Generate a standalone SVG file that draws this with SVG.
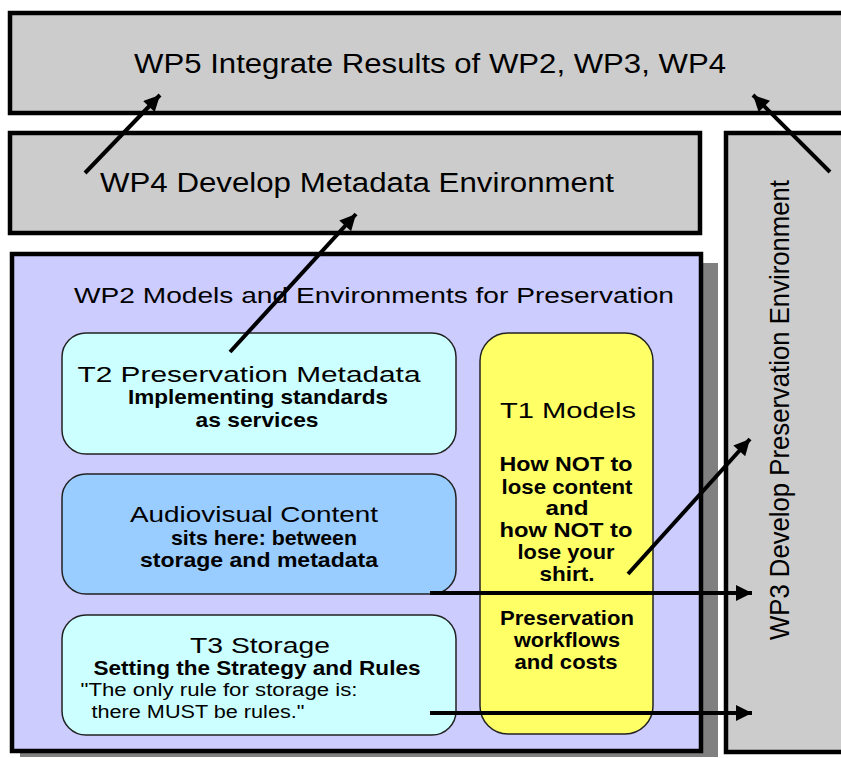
<svg xmlns="http://www.w3.org/2000/svg" width="841" height="758" viewBox="0 0 841 758">
<defs>
<style>
.wp{fill:#cccccc;stroke:#000;stroke-width:4.5}
.t{font-family:"Liberation Sans",Arial,sans-serif;fill:#000;text-anchor:middle}
.big{font-size:27px}
.h{font-size:22px}
.b{font-size:21px;font-weight:bold}
.q{font-size:18px}
.inner{stroke:#222;stroke-width:1.5}
.conn{stroke:#000;stroke-width:4;fill:none}
</style>
<marker id="ah" viewBox="0 0 10 10" refX="10" refY="5" markerWidth="8.5" markerHeight="4" markerUnits="strokeWidth" orient="auto">
<path d="M0,0 L10,5 L0,10 z" fill="#000"/>
</marker>
</defs>
<rect x="0" y="0" width="841" height="758" fill="#fff"/>
<g id="wp5">
<rect class="wp" x="10" y="13" width="840" height="100"/>
<text class="t big" x="430" y="73" textLength="592" lengthAdjust="spacingAndGlyphs">WP5 Integrate Results of WP2, WP3, WP4</text>
</g>
<g id="wp4">
<rect class="wp" x="10" y="133" width="690" height="100"/>
<text class="t big" x="357" y="192" textLength="514" lengthAdjust="spacingAndGlyphs">WP4 Develop Metadata Environment</text>
</g>
<g id="wp3">
<rect class="wp" x="726" y="133" width="130" height="619"/>
<text class="t" font-size="28" transform="translate(789,410) rotate(-90)" x="0" y="0" textLength="460" lengthAdjust="spacingAndGlyphs">WP3 Develop Preservation Environment</text>
</g>
<g id="wp2">
<rect x="20" y="263" width="698" height="494" fill="#808080"/>
<rect x="12" y="254" width="689" height="497" fill="#ccccff" stroke="#000" stroke-width="4.5"/>
<text class="t h" x="374" y="303" textLength="600" lengthAdjust="spacingAndGlyphs">WP2 Models and Environments for Preservation</text>
</g>
<g id="t2">
<rect class="inner" x="62" y="333" width="394" height="121" rx="24" fill="#ccffff"/>
<text class="t h" x="249" y="382" textLength="343" lengthAdjust="spacingAndGlyphs">T2 Preservation Metadata</text>
<text class="t b" x="258" y="404" textLength="260" lengthAdjust="spacingAndGlyphs">Implementing standards</text>
<text class="t b" x="257" y="427" textLength="123" lengthAdjust="spacingAndGlyphs">as services</text>
</g>
<g id="av">
<rect class="inner" x="62" y="474" width="394" height="120" rx="24" fill="#99ccff"/>
<text class="t h" x="254" y="522" textLength="248" lengthAdjust="spacingAndGlyphs">Audiovisual Content</text>
<text class="t b" x="264" y="545" textLength="186" lengthAdjust="spacingAndGlyphs">sits here: between</text>
<text class="t b" x="259" y="567" textLength="238" lengthAdjust="spacingAndGlyphs">storage and metadata</text>
</g>
<g id="t3">
<rect class="inner" x="62" y="615" width="394" height="120" rx="24" fill="#ccffff"/>
<text class="t h" x="260" y="653" textLength="140" lengthAdjust="spacingAndGlyphs">T3 Storage</text>
<text class="t b" x="257" y="675" textLength="327" lengthAdjust="spacingAndGlyphs">Setting the Strategy and Rules</text>
<text class="t q" x="219" y="696" textLength="277" lengthAdjust="spacingAndGlyphs">"The only rule for storage is:</text>
<text class="t q" x="198" y="718" textLength="213" lengthAdjust="spacingAndGlyphs">there MUST be rules."</text>
</g>
<g id="t1">
<rect class="inner" x="480" y="333" width="173" height="401" rx="28" fill="#ffff66"/>
<text class="t h" x="568" y="418" textLength="136" lengthAdjust="spacingAndGlyphs">T1 Models</text>
<text class="t b" x="566" y="471" textLength="133" lengthAdjust="spacingAndGlyphs">How NOT to</text>
<text class="t b" x="567" y="494" textLength="131" lengthAdjust="spacingAndGlyphs">lose content</text>
<text class="t b" x="567" y="515" textLength="43" lengthAdjust="spacingAndGlyphs">and</text>
<text class="t b" x="566" y="537" textLength="133" lengthAdjust="spacingAndGlyphs">how NOT to</text>
<text class="t b" x="566" y="559" textLength="97" lengthAdjust="spacingAndGlyphs">lose your</text>
<text class="t b" x="567" y="581" textLength="55" lengthAdjust="spacingAndGlyphs">shirt.</text>
<text class="t b" x="567" y="625" textLength="134" lengthAdjust="spacingAndGlyphs">Preservation</text>
<text class="t b" x="567" y="647" textLength="106" lengthAdjust="spacingAndGlyphs">workflows</text>
<text class="t b" x="566" y="669" textLength="103" lengthAdjust="spacingAndGlyphs">and costs</text>
</g>
<g id="connectors">
<line class="conn" x1="85" y1="173" x2="160" y2="95" marker-end="url(#ah)"/>
<line class="conn" x1="830" y1="172" x2="753" y2="95" marker-end="url(#ah)"/>
<line class="conn" x1="230" y1="352" x2="356" y2="214" marker-end="url(#ah)"/>
<line class="conn" x1="628" y1="574" x2="750" y2="439" marker-end="url(#ah)"/>
<line class="conn" x1="430" y1="593" x2="752" y2="593" marker-end="url(#ah)"/>
<line class="conn" x1="430" y1="713" x2="752" y2="713" marker-end="url(#ah)"/>
</g>
</svg>
